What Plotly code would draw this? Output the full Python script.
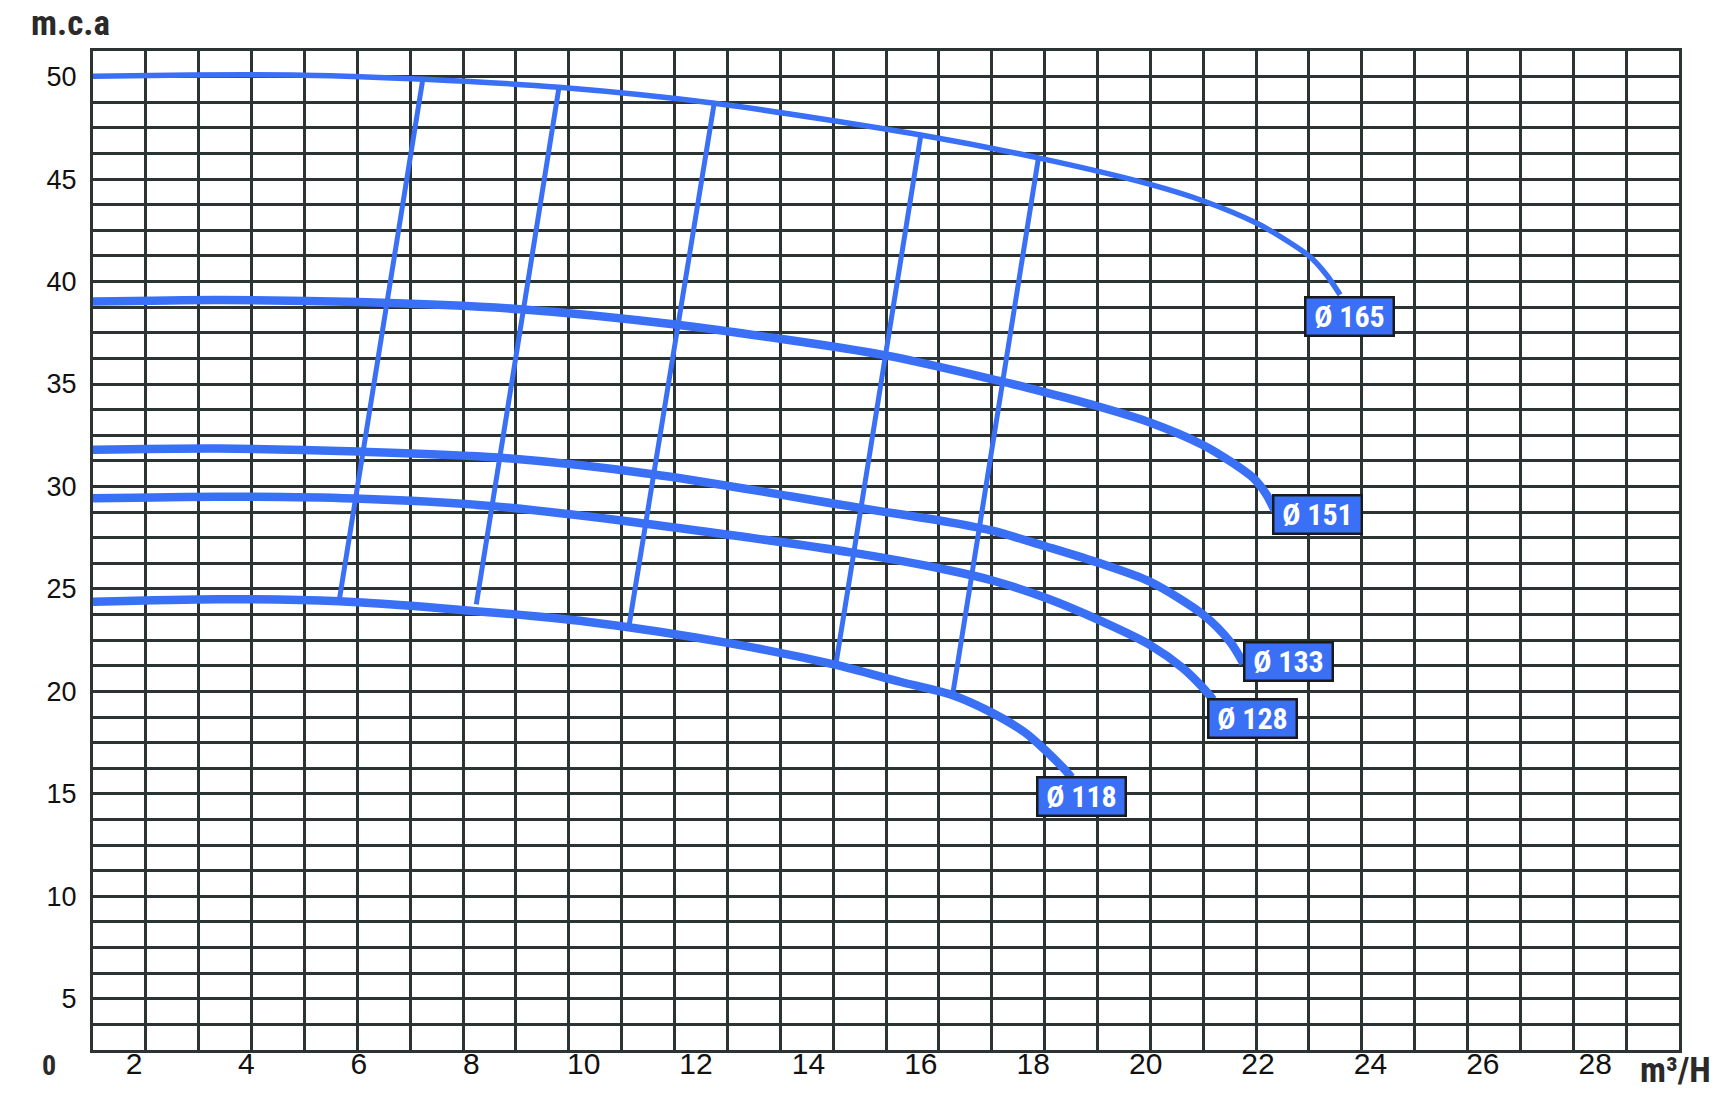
import plotly.graph_objects as go

# ---------------- data ----------------
flow_165 = [1.27, 3.0, 5.0, 7.17, 9.56, 12.33, 16.0, 18.13, 20.08, 21.03, 21.98, 22.45, 22.93, 23.22, 23.46]
head_165 = [50.02, 50.08, 50.07, 49.87, 49.48, 48.7, 47.15, 46.01, 44.74, 43.93, 42.84, 42.1, 41.2, 40.32, 39.35]

flow_151 = [1.27, 3.5, 6.0, 8.87, 11.63, 15.37, 17.4, 18.2, 19.1, 20.1, 21.0, 21.56, 21.92, 22.15, 22.3]
head_151 = [39.02, 39.1, 39.0, 38.65, 37.9, 36.4, 35.15, 34.6, 33.95, 33.1, 32.05, 31.13, 30.4, 29.6, 28.8]

flow_133 = [1.27, 3.5, 6.0, 8.48, 11.23, 14.97, 16.52, 17.29, 18.24, 19.19, 20.08, 21.03, 21.5, 21.74]
head_133 = [31.79, 31.85, 31.7, 31.41, 30.6, 28.93, 28.25, 27.83, 27.06, 26.25, 25.35, 23.73, 22.43, 21.37]

flow_128 = [1.27, 3.5, 5.92, 8.38, 10.84, 14.78, 16.52, 17.29, 18.24, 19.19, 20.08, 20.67, 21.03, 21.2]
head_128 = [29.42, 29.5, 29.41, 29.04, 28.28, 26.77, 25.9, 25.4, 24.54, 23.45, 22.26, 21.12, 20.15, 19.6]

flow_118 = [1.27, 3.5, 5.65, 7.51, 10.06, 12.61, 14.49, 15.63, 16.53, 17.2, 17.85, 18.24, 18.54, 18.68]
head_118 = [24.38, 24.5, 24.4, 24.05, 23.4, 22.34, 21.29, 20.47, 19.85, 19.05, 18.0, 17.06, 16.24, 15.8]

# iso lines (straight segments from the Ø118 curve up to the Ø165 curve)
iso_flow_low = [5.65, 8.09, 10.81, 14.49, 16.57]
iso_head_low = [24.42, 24.25, 23.24, 21.35, 19.9]
iso_flow_high = [7.14, 9.56, 12.32, 16.0, 18.09]
iso_head_high = [49.9, 49.45, 48.65, 47.15, 46.0]

curve_labels = ["Ø 165", "Ø 151", "Ø 133", "Ø 128", "Ø 118"]

x_tick_vals = [2, 4, 6, 8, 10, 12, 14, 16, 18, 20, 22, 24, 26, 28]
y_tick_vals = [5, 10, 15, 20, 25, 30, 35, 40, 45, 50]

# ---------------- layout / style ----------------
label_pos = [(22.82, 39.31), (22.24, 29.61), (21.74, 22.44), (21.09, 19.66), (18.05, 15.89)]

BLUE = "#3A70F5"
GRID = "#2B3333"
BOLD_FONT = "Liberation Sans Narrow, Roboto Condensed, DejaVu Sans Condensed, Liberation Sans, Arial"
REG_FONT = "Liberation Sans, Arial, Helvetica"

fig = go.Figure()

# invisible trace that activates the grid axis x2
fig.add_trace(go.Scatter(x=[0, 30], y=[10, 10], xaxis="x2", yaxis="y", mode="markers",
                         marker=dict(opacity=0), showlegend=False, hoverinfo="skip"))

for x0, y0, x1, y1 in zip(iso_flow_low, iso_head_low, iso_flow_high, iso_head_high):
    fig.add_trace(go.Scatter(x=[x0, x1], y=[y0, y1], mode="lines",
                             line=dict(color=BLUE, width=5), showlegend=False, hoverinfo="skip"))

curves = [(flow_165, head_165, 5.5), (flow_151, head_151, 8.5),
          (flow_133, head_133, 8.5), (flow_128, head_128, 8.5), (flow_118, head_118, 8.5)]
for fx, hy, w in curves:
    fig.add_trace(go.Scatter(x=fx, y=hy, mode="lines",
                             line=dict(color=BLUE, width=w, shape="spline", smoothing=0.8),
                             showlegend=False, hoverinfo="skip"))

annotations = []
for txt, (lx, ly) in zip(curve_labels, label_pos):
    annotations.append(dict(x=lx, y=ly, xref="x", yref="y", xanchor="left", yanchor="top",
                            text="<b>%s</b>" % txt, showarrow=False,
                            font=dict(family=BOLD_FONT, size=30, color="white"),
                            bgcolor=BLUE, bordercolor="#1A1A1A", borderwidth=2.5, borderpad=0,
                            width=86, height=36, align="center", valign="middle"))

annotations.append(dict(x=-0.0145, y=1.028, xref="paper", yref="paper", text="<b>m.c.a</b>",
                        showarrow=False, xanchor="center", yanchor="middle",
                        font=dict(family=BOLD_FONT, size=35, color="#2A2A2A")))
annotations.append(dict(x=0.998, y=-0.021, xref="paper", yref="paper", text="<b>m³/H</b>",
                        showarrow=False, xanchor="center", yanchor="middle",
                        font=dict(family=BOLD_FONT, size=35, color="#2A2A2A")))
annotations.append(dict(x=-0.0277, y=-0.016, xref="paper", yref="paper", text="<b>0</b>",
                        showarrow=False, xanchor="center", yanchor="middle",
                        font=dict(family=BOLD_FONT, size=28, color="#2A2A2A")))

fig.update_layout(
    width=1735, height=1097,
    margin=dict(l=93, r=56, t=51, b=47, pad=0, autoexpand=False),
    paper_bgcolor="white", plot_bgcolor="white",
    showlegend=False,
    hovermode=False,
    annotations=annotations,
    xaxis=dict(range=[1.27, 29.49], tickmode="array", tickvals=x_tick_vals,
               ticktext=[str(v) for v in x_tick_vals], showgrid=False, zeroline=False,
               ticks="", showline=True, linecolor=GRID, linewidth=3, mirror=True,
               automargin=False, ticklabelstandoff=-15,
               tickfont=dict(family=REG_FONT, size=30, color="#111111")),
    xaxis2=dict(range=[0, 30], overlaying="x", side="bottom", showgrid=True, dtick=1,
                gridcolor=GRID, gridwidth=2.5, showticklabels=False, ticks="", zeroline=False,
                showline=False, automargin=False),
    yaxis=dict(range=[2.5, 51.25], tickmode="array", tickvals=y_tick_vals,
               ticktext=[str(v) for v in y_tick_vals], showgrid=True, gridcolor=GRID, gridwidth=2.5,
               minor=dict(dtick=1.25, tick0=0, showgrid=True, gridcolor=GRID, gridwidth=2.5),
               zeroline=False, ticks="", ticklabelstandoff=8, automargin=False,
               showline=True, linecolor=GRID, linewidth=3, mirror=True,
               tickfont=dict(family=REG_FONT, size=27, color="#111111")),
)

# remove the default 8px page margin so the figure fills the window exactly
fig.write_html("out.html",
               config={"displayModeBar": False, "staticPlot": False},
               post_script="document.body.style.margin='0';document.body.style.overflow='hidden';")
